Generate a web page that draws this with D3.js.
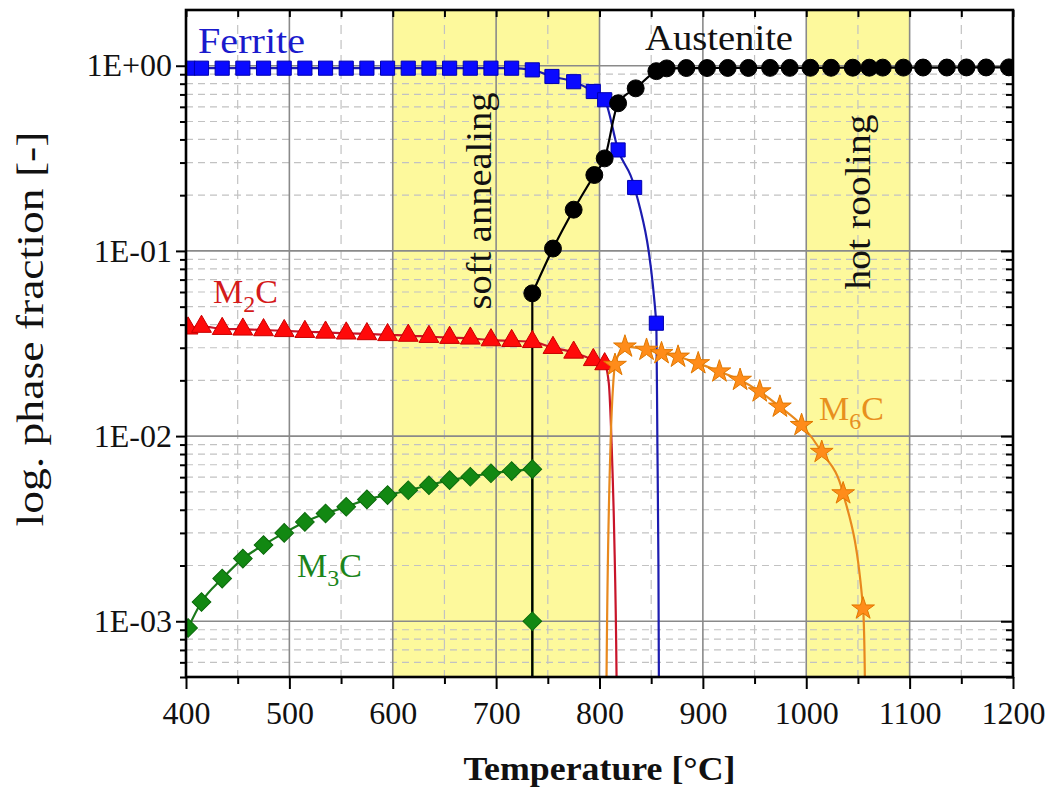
<!DOCTYPE html>
<html><head><meta charset="utf-8">
<script src="https://cdn.jsdelivr.net/npm/d3@7"></script>
<style>
html,body{margin:0;padding:0;background:#fff;}
svg text{font-family:"Liberation Serif","Times New Roman",serif;}
</style></head><body>
<svg id="chart" width="1052" height="791"></svg>
<script>
// ---------- data ----------
const xTicks = [400, 500, 600, 700, 800, 900, 1000, 1100, 1200];
const xMinorTicks = [450, 550, 650, 750, 850, 950, 1050, 1150];
const yTicks = [1e-3, 1e-2, 1e-1, 1];
const yTickLabels = ["1E-03", "1E-02", "1E-01", "1E+00"];
const bandStart = [600, 1000];
const bandEnd = [800, 1100];
const bandLabels = ["soft annealing", "hot rooling"];

const ferriteT = [402, 415, 435, 455, 475, 495, 515, 535, 555, 575, 595, 615, 635, 655, 675, 695, 715, 735, 754, 775, 794, 805, 818, 834, 855];
const ferriteV = [0.97, 0.97, 0.97, 0.97, 0.97, 0.97, 0.97, 0.97, 0.97, 0.97, 0.97, 0.97, 0.97, 0.97, 0.97, 0.97, 0.97, 0.95, 0.875, 0.82, 0.726, 0.655, 0.351, 0.22, 0.0407];
const ferriteTailT = [856, 857, 857.6, 858];
const ferriteTailV = [0.009, 0.002, 0.0003, 0.0001];

const austeniteDropT = [735];
const austeniteDropV = [0.00001];
const austeniteT = [735, 755, 775, 795, 805, 818, 835, 855, 865, 884, 904, 924, 944, 965, 984, 1004, 1024, 1045, 1061, 1074, 1094, 1113, 1136, 1155, 1174, 1196];
const austeniteV = [0.059, 0.103, 0.167, 0.257, 0.316, 0.627, 0.755, 0.935, 0.968, 0.972, 0.972, 0.973, 0.973, 0.974, 0.974, 0.975, 0.975, 0.976, 0.976, 0.977, 0.977, 0.978, 0.978, 0.979, 0.979, 0.98];

const m2cT = [402, 415, 435, 455, 475, 495, 515, 535, 555, 575, 595, 615, 635, 655, 675, 695, 715, 735, 755, 775, 794, 805];
const m2cV = [0.0382, 0.039, 0.038, 0.0377, 0.0374, 0.037, 0.0366, 0.0363, 0.0359, 0.0356, 0.0352, 0.0349, 0.0344, 0.034, 0.0337, 0.033, 0.0327, 0.0323, 0.030, 0.0283, 0.0258, 0.0245];
const m2cTailT = [809, 811.7, 814.2, 816.5, 817.5];
const m2cTailV = [0.0193, 0.0091, 0.003, 0.0005, 0.0001];

const m3cT = [402, 415, 435, 455, 475, 495, 515, 535, 555, 575, 595, 615, 635, 655, 675, 695, 715, 735];
const m3cV = [0.00092, 0.00127, 0.0017, 0.00218, 0.00258, 0.0030, 0.00344, 0.00382, 0.00415, 0.00455, 0.0048, 0.0051, 0.00543, 0.00578, 0.00603, 0.0063, 0.00647, 0.00663];
const m3cDropT = [735, 735];
const m3cDropV = [0.001, 0.00001];

const m6cHeadT = [806.3, 806.8, 810.7, 813.3];
const m6cHeadV = [0.0001, 0.0005, 0.0091, 0.0193];
const m6cT = [815, 824.6, 845.5, 860, 876, 895.5, 916, 936, 955, 974.5, 995.5, 1015, 1035.7, 1055];
const m6cV = [0.0242, 0.0304, 0.0292, 0.028, 0.0268, 0.0247, 0.0223, 0.0201, 0.0174, 0.0144, 0.01146, 0.0082, 0.0049, 0.00117];
const m6cTailT = [1056.7, 1057.3];
const m6cTailV = [0.0005, 0.0001];

// ---------- chart ----------
const svg = d3.select("#chart");
const X0 = 186, X1 = 1013, Y0 = 677, Y1 = 10;
const x = d3.scaleLinear().domain([400, 1200]).range([X0, X1]);
const y = d3.scaleLog().domain([5e-4, 2]).range([Y0, Y1]);

const zip = (t, v) => t.map((d, i) => [d, v[i]]);

svg.append("defs").append("clipPath").attr("id", "clip")
  .append("rect").attr("x", X0).attr("y", Y1).attr("width", X1 - X0).attr("height", Y0 - Y1);

// bands
svg.append("g").selectAll("rect").data(bandStart).join("rect")
  .attr("x", d => x(d)).attr("y", Y1)
  .attr("width", (d, i) => x(bandEnd[i]) - x(d)).attr("height", Y0 - Y1)
  .attr("fill", "#fdf99c");

// minor grid
const yMinor = [];
for (let e = -4; e <= 0; e++) for (let k = 2; k <= 9; k++) {
  const v = k * Math.pow(10, e);
  if (v >= 5e-4 && v < 2) yMinor.push(v);
}
const grid = svg.append("g");
grid.selectAll("line.hm").data(yMinor).join("line").attr("class", "hm")
  .attr("x1", X0).attr("x2", X1).attr("y1", d => y(d)).attr("y2", d => y(d))
  .attr("stroke", "#c2c2c2").attr("stroke-width", 1.2).attr("stroke-dasharray", "7,5");
grid.selectAll("line.vm").data(xMinorTicks).join("line").attr("class", "vm")
  .attr("y1", Y1).attr("y2", Y0).attr("x1", d => x(d)).attr("x2", d => x(d))
  .attr("stroke", "#c2c2c2").attr("stroke-width", 1.2).attr("stroke-dasharray", "9,6");
grid.selectAll("line.hM").data(yTicks).join("line").attr("class", "hM")
  .attr("x1", X0).attr("x2", X1).attr("y1", d => y(d)).attr("y2", d => y(d))
  .attr("stroke", "#8a8a8a").attr("stroke-width", 1.6);
grid.selectAll("line.vM").data(xTicks.slice(1, -1)).join("line").attr("class", "vM")
  .attr("y1", Y1).attr("y2", Y0).attr("x1", d => x(d)).attr("x2", d => x(d))
  .attr("stroke", "#8a8a8a").attr("stroke-width", 1.6);

// band labels
const bandLabelPos = [[695, 201, 217], [1061.5, 202, 175]];
svg.append("g").selectAll("text").data(bandLabels).join("text")
  .attr("transform", (d, i) => `translate(${x(bandLabelPos[i][0])},${bandLabelPos[i][1]}) rotate(-90)`)
  .attr("text-anchor", "middle").attr("font-size", 35)
  .attr("textLength", (d, i) => bandLabelPos[i][2]).attr("lengthAdjust", "spacingAndGlyphs")
  .attr("fill", "#111").text(d => d);

// lines
const plot = svg.append("g").attr("clip-path", "url(#clip)");
const smooth = d3.line().x(d => x(d[0])).y(d => y(d[1])).curve(d3.curveMonotoneX);
const straight = d3.line().x(d => x(d[0])).y(d => y(d[1]));

function drawLine(pts, color, gen) {
  plot.append("path").attr("d", (gen || smooth)(pts)).attr("fill", "none")
    .attr("stroke", color).attr("stroke-width", 2.2);
}
// M3C
drawLine(zip(m3cT, m3cV), "#1b7a1b");
drawLine([[m3cT[m3cT.length - 1], m3cV[m3cV.length - 1]]].concat(zip(m3cDropT, m3cDropV)), "#1b7a1b", straight);
// M2C
drawLine(zip(m2cT, m2cV).concat(zip(m2cTailT, m2cTailV)), "#c8142a");
// M6C
drawLine(zip(m6cHeadT, m6cHeadV).concat(zip(m6cT, m6cV), zip(m6cTailT, m6cTailV)), "#e8891e");
// Ferrite
drawLine(zip(ferriteT, ferriteV).concat(zip(ferriteTailT, ferriteTailV)), "#1c1cb0");
// Austenite
drawLine(zip(austeniteDropT, austeniteDropV).concat([[austeniteT[0], austeniteV[0]]]), "#000", straight);
drawLine(zip(austeniteT, austeniteV), "#000");

// markers
function drawMarkers(pts, type, size, fill, stroke, rot) {
  plot.append("g").selectAll("path").data(pts).join("path")
    .attr("d", d3.symbol().type(type).size(size)())
    .attr("transform", d => `translate(${x(d[0])},${y(d[1])})` + (rot ? ` rotate(${rot})` : ""))
    .attr("fill", fill).attr("stroke", stroke).attr("stroke-width", 1);
}
drawMarkers(zip(m2cT, m2cV), d3.symbolTriangle, 170, "#ff0a0a", "#c80000");
drawMarkers(zip(m6cT, m6cV), d3.symbolStar, 160, "#ff8c1a", "#e07800");
drawMarkers(zip(m3cT, m3cV), d3.symbolSquare, 175, "#128812", "#0b6a0b", 45);
drawMarkers(zip(ferriteT, ferriteV), d3.symbolSquare, 200, "#0a0aff", "#0000b0");
drawMarkers(zip(austeniteT, austeniteV), d3.symbolCircle, 225, "#000", "#000");
drawMarkers(zip(m3cDropT.slice(0, 1), m3cDropV.slice(0, 1)), d3.symbolSquare, 175, "#128812", "#0b6a0b", 45);

// axes
function styleAxis(g) {
  g.select(".domain").remove();
  g.selectAll(".tick line").attr("stroke", "#000").attr("stroke-width", 2);
  g.selectAll(".tick text").attr("font-size", 32).attr("fill", "#111")
    .attr("font-family", "'Liberation Serif','Times New Roman',serif");
}
svg.append("g").attr("transform", `translate(0,${Y0})`)
  .call(d3.axisBottom(x).tickValues(xTicks).tickSize(12).tickPadding(12).tickSizeOuter(0).tickFormat(d => d))
  .call(styleAxis);
svg.append("g").attr("transform", `translate(0,${Y0})`)
  .call(d3.axisBottom(x).tickValues(xMinorTicks).tickSize(7).tickFormat(""))
  .call(styleAxis);
svg.append("g").attr("transform", `translate(${X0},0)`)
  .call(d3.axisLeft(y).tickValues(yTicks).tickSize(10).tickPadding(4).tickFormat((d, i) => yTickLabels[i]))
  .call(styleAxis);
svg.append("g").attr("transform", `translate(${X0},0)`)
  .call(d3.axisLeft(y).tickValues(yMinor).tickSize(6).tickFormat(""))
  .call(styleAxis);
svg.append("g").attr("transform", `translate(${X1},0)`)
  .call(d3.axisRight(y).tickValues(yTicks).tickSize(-12).tickFormat(""))
  .call(styleAxis);
svg.append("g").attr("transform", `translate(${X1},0)`)
  .call(d3.axisRight(y).tickValues(yMinor).tickSize(-7).tickFormat(""))
  .call(styleAxis);
svg.append("g").attr("transform", `translate(0,${Y1})`)
  .call(d3.axisTop(x).tickValues(xTicks.concat(xMinorTicks)).tickSize(-7).tickFormat(""))
  .call(styleAxis);

svg.append("rect").attr("x", X0).attr("y", Y1).attr("width", X1 - X0).attr("height", Y0 - Y1)
  .attr("fill", "none").attr("stroke", "#000").attr("stroke-width", 2.6);

// axis titles
svg.append("text").attr("x", (X0 + X1) / 2).attr("y", 780).attr("text-anchor", "middle")
  .attr("font-size", 34).attr("font-weight", "bold").attr("fill", "#111")
  .attr("textLength", 272).attr("lengthAdjust", "spacingAndGlyphs")
  .text("Temperature [°C]");
svg.append("text").attr("transform", "translate(43,329) rotate(-90)").attr("text-anchor", "middle")
  .attr("font-size", 37).attr("fill", "#111")
  .attr("textLength", 395).attr("lengthAdjust", "spacingAndGlyphs")
  .text("log. phase fraction [-]");

// series labels
svg.append("text").attr("x", 198).attr("y", 53).attr("font-size", 35).attr("fill", "#1a1acc")
  .attr("textLength", 107).attr("lengthAdjust", "spacingAndGlyphs").text("Ferrite");
svg.append("text").attr("x", 645).attr("y", 50).attr("font-size", 35).attr("fill", "#111")
  .attr("textLength", 148).attr("lengthAdjust", "spacingAndGlyphs").text("Austenite");

function subLabel(px, py, sub, color) {
  const t = svg.append("text").attr("x", px).attr("y", py).attr("font-size", 34).attr("fill", color);
  t.append("tspan").text("M");
  t.append("tspan").attr("font-size", 24).attr("dy", 9).text(sub);
  t.append("tspan").attr("dy", -9).text("C");
}
subLabel(213, 303, "2", "#d41a1a");
subLabel(297, 577, "3", "#1b851b");
subLabel(819, 420, "6", "#e8901e");
</script>
</body></html>
